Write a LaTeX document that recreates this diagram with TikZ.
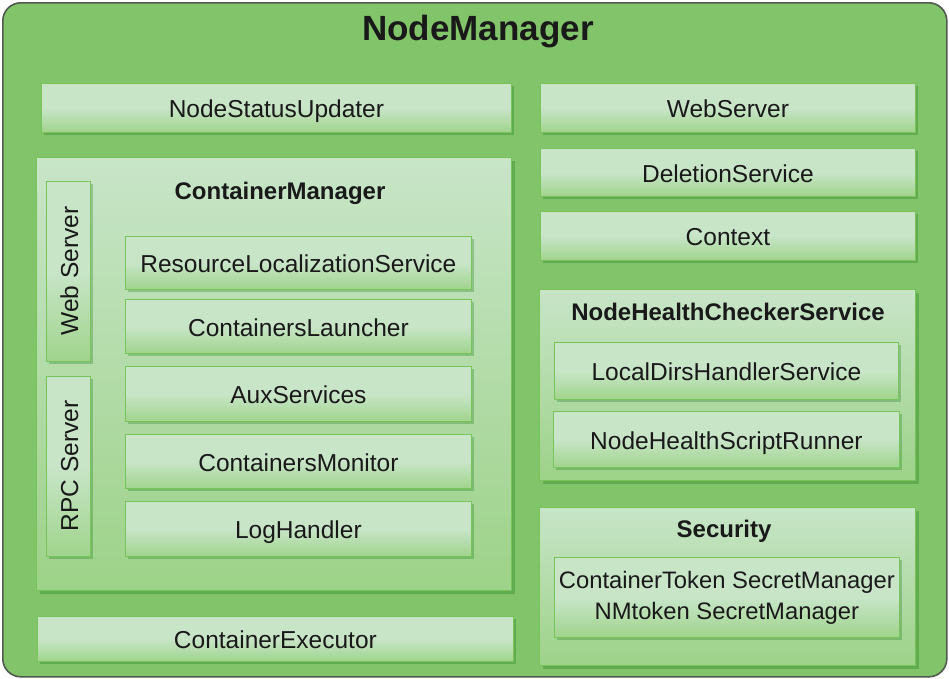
\documentclass[tikz,border=0pt]{standalone}
\usepackage{fontspec}
\setmainfont{Liberation Sans}
\usetikzlibrary{shadows,positioning}
\definecolor{bggreen}{RGB}{130,196,105}
\definecolor{boxlight}{RGB}{200,229,200}
\definecolor{boxdark}{RGB}{160,212,140}
\definecolor{boxedge}{RGB}{120,196,90}
\definecolor{outeredge}{RGB}{80,90,80}
\definecolor{txt}{RGB}{25,25,25}
\tikzset{
  comp/.style={draw=boxedge, line width=0.8pt, top color=boxlight, bottom color=boxdark, middle color=boxlight,
    shading angle=0, drop shadow={shadow xshift=3pt, shadow yshift=-3pt, opacity=0.25, fill=black!60!green},
    text=txt, font=\fontsize{24.5}{28}\selectfont, inner sep=0pt, text height=20pt, text depth=0pt},
  group/.style={draw=boxedge, line width=0.8pt, top color=boxlight, bottom color=boxdark!90!bggreen,
    drop shadow={shadow xshift=4pt, shadow yshift=-4pt, opacity=0.25, fill=black!60!green}},
  gtitle/.style={text=txt, font=\bfseries\fontsize{24}{28}\selectfont},
}
\newcommand{\boxat}[6]{% name, x1,y1,x2,y2, text
  \node[comp, minimum width=#4-#2, minimum height=#5-#3, anchor=north west] (#1) at (#2,#3) {#6};}
\begin{document}
\begin{tikzpicture}[x=1pt,y=-1pt]
\useasboundingbox (0,0) rectangle (949,678);
\node[draw=outeredge, line width=1.6pt, fill=bggreen, rounded corners=18pt, minimum width=944, minimum height=674, anchor=north west, inner sep=0pt] (nm) at (2,2) {};
\node[text=txt, font=\bfseries\fontsize{35}{40}\selectfont] (title) at (478,32) {NodeManager};

\boxat{nsu}{41}{83}{511}{132}{NodeStatusUpdater}
\boxat{ws}{540}{83}{915}{132}{WebServer}
\boxat{ds}{540}{148}{915}{196}{DeletionService}
\boxat{ctx}{540}{211}{915}{260}{Context}

% ContainerManager group
\node[group, minimum width=475, minimum height=433, anchor=north west, inner sep=0pt] (cm) at (36,157) {};
\node[gtitle] (cmt) at (280,193) {ContainerManager};
\node[comp, minimum width=180, minimum height=44, rotate=90] (web) at (68,271) {Web Server};
\node[comp, minimum width=180, minimum height=44, rotate=90] (rpc) at (68,466) {RPC Server};
\boxat{rls}{125}{236}{471}{289}{ResourceLocalizationService}
\boxat{cl}{125}{299}{471}{353}{ContainersLauncher}
\boxat{aux}{125}{366}{471}{421}{AuxServices}
\boxat{cmon}{125}{434}{471}{488}{ContainersMonitor}
\boxat{lh}{125}{501}{471}{556}{LogHandler}

\boxat{ce}{37}{616}{513}{661}{ContainerExecutor}

% NodeHealthCheckerService
\node[group, minimum width=376, minimum height=191, anchor=north west, inner sep=0pt] (nhc) at (539,289) {};
\node[gtitle] (nhct) at (728,312) {NodeHealthCheckerService};
\boxat{ldh}{554}{342}{898}{399}{LocalDirsHandlerService}
\boxat{nhs}{553}{411}{899}{467}{NodeHealthScriptRunner}

% Security
\node[group, minimum width=376, minimum height=158, anchor=north west, inner sep=0pt] (sec) at (539,507) {};
\node[gtitle] (sect) at (724,531) {Security};
\node[comp, minimum width=345, minimum height=80, anchor=north west, align=center, text height=, text depth=, font=\fontsize{23.8}{31}\selectfont] (sm) at (554,557) {ContainerToken SecretManager\\NMtoken SecretManager};
\end{tikzpicture}
\end{document}
